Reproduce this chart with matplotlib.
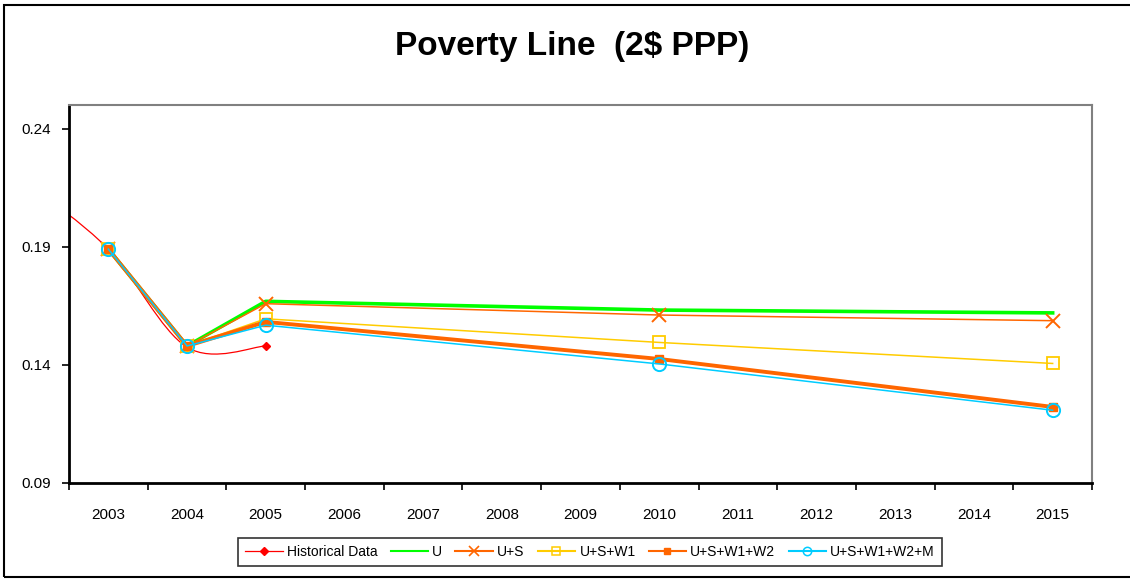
import numpy as np
import matplotlib
matplotlib.use("Agg")
import matplotlib.pyplot as plt
from matplotlib.path import Path
from matplotlib.patches import PathPatch, Rectangle
from matplotlib.lines import Line2D

plt.rcParams["font.family"] = ["Liberation Sans", "DejaVu Sans"]

# Category axis
years = [2003, 2004, 2005, 2006, 2007, 2008, 2009, 2010, 2011, 2012, 2013, 2014, 2015]

# Historical data (first point lies left of the visible axis)
hist_years = [2002, 2003, 2004, 2005]
hist_vals = [0.216, 0.189, 0.1475, 0.148]

# Scenario series
scen_years = [2003, 2004, 2005, 2010, 2015]
u_vals = [0.189, 0.148, 0.1669, 0.1632, 0.1620]
us_vals = [0.189, 0.148, 0.1659, 0.1611, 0.1587]
usw1_vals = [0.189, 0.148, 0.1595, 0.1495, 0.1406]
usw1w2_vals = [0.189, 0.148, 0.1582, 0.1425, 0.1222]
usw1w2m_vals = [0.189, 0.148, 0.1568, 0.1404, 0.1208]


def smooth_path(xs, ys):
    # Excel style smoothed line as cubic Bezier segments
    pts = np.column_stack([xs, ys]).astype(float)
    n = len(pts)
    verts = [pts[0]]
    codes = [Path.MOVETO]
    for i in range(n - 1):
        p0 = pts[i - 1] if i > 0 else pts[i]
        p1 = pts[i]
        p2 = pts[i + 1]
        p3 = pts[i + 2] if i + 2 < n else pts[i + 1]
        c1 = p1 + (p2 - p0) / 6.0
        c2 = p2 - (p3 - p1) / 6.0
        verts += [c1, c2, p2]
        codes += [Path.CURVE4] * 3
    return Path(verts, codes)


fig = plt.figure(figsize=(11.3, 5.79), dpi=100)
ax = fig.add_axes([69 / 1130, 1 - 483 / 579, (1092 - 69) / 1130, (483 - 105) / 579])

red = "#FF0000"
green = "#00FF00"
orange = "#FF6600"
yellow = "#FFCC00"
cyan = "#00CCFF"

# historical (smoothed)
ax.add_patch(PathPatch(smooth_path(hist_years, hist_vals), facecolor="none",
                       edgecolor=red, lw=0.9, zorder=2))
ax.plot(hist_years, hist_vals, ls="none", marker="D", ms=4.5, color=red, zorder=2)

ax.plot(scen_years, u_vals, color=green, lw=2.6, zorder=3)
ax.plot(scen_years, us_vals, color=orange, lw=1.1, marker="x", ms=10, mew=1.4, zorder=4)
ax.plot(scen_years, usw1_vals, color=yellow, lw=1.1, marker="s", ms=8, mew=1.3,
        mfc="none", zorder=5)
ax.plot(scen_years, usw1w2_vals, color=orange, lw=2.8, marker="s", ms=5.5, zorder=6)
ax.plot(scen_years, usw1w2m_vals, color=cyan, lw=1.1, marker="o", ms=9.5, mew=1.4,
        mfc="none", zorder=7)

ax.set_xlim(years[0] - 0.5, years[-1] + 0.5)
ax.set_ylim(0.09, 0.25)

ax.set_xticks([y - 0.5 for y in years] + [years[-1] + 0.5])
ax.set_xticklabels([])
ax.set_xticks(years, minor=True)
ax.set_xticklabels([str(y) for y in years], minor=True, fontsize=11)
ax.tick_params(axis="x", which="major", direction="out", length=5, width=1.2, color="black")
ax.tick_params(axis="x", which="minor", length=0, pad=18)

ax.set_yticks([0.09, 0.14, 0.19, 0.24])
ax.set_yticklabels(["0.09", "0.14", "0.19", "0.24"], fontsize=11)
ax.tick_params(axis="y", direction="out", length=5, width=1.2, pad=8)

for side in ["top", "right"]:
    ax.spines[side].set_color("#808080")
    ax.spines[side].set_linewidth(1.5)
for side in ["left", "bottom"]:
    ax.spines[side].set_color("black")
    ax.spines[side].set_linewidth(2)

fig.text(572 / 1130, 1 - 47 / 579, "Poverty Line  (2$ PPP)", ha="center", va="center",
         fontsize=24, fontweight="bold")

handles = [
    Line2D([], [], color=red, lw=0.9, marker="D", ms=4.5),
    Line2D([], [], color=green, lw=1.5),
    Line2D([], [], color=orange, lw=1.5, marker="x", ms=7, mew=1.2),
    Line2D([], [], color=yellow, lw=1.5, marker="s", ms=6, mfc="none", mew=1.1),
    Line2D([], [], color=orange, lw=1.5, marker="s", ms=5),
    Line2D([], [], color=cyan, lw=1.5, marker="o", ms=6, mfc="none", mew=1.1),
]
labels = ["Historical Data", "U", "U+S", "U+S+W1", "U+S+W1+W2", "U+S+W1+W2+M"]
leg = fig.legend(handles, labels, loc="center", bbox_to_anchor=(590 / 1130, 1 - 552 / 579),
                 ncol=6, fontsize=10, frameon=True, fancybox=False, handlelength=2.7,
                 handletextpad=0.3, columnspacing=0.95, borderpad=0.5, borderaxespad=0)
leg.get_frame().set_edgecolor("black")
leg.get_frame().set_linewidth(1.2)

# outer chart frame
fig.patches.append(Rectangle((4 / 1130, 2 / 579), 1.0, 1 - 7 / 579, transform=fig.transFigure,
                             fill=False, edgecolor="black", lw=1.5))

fig.savefig("out.png", dpi=100)
